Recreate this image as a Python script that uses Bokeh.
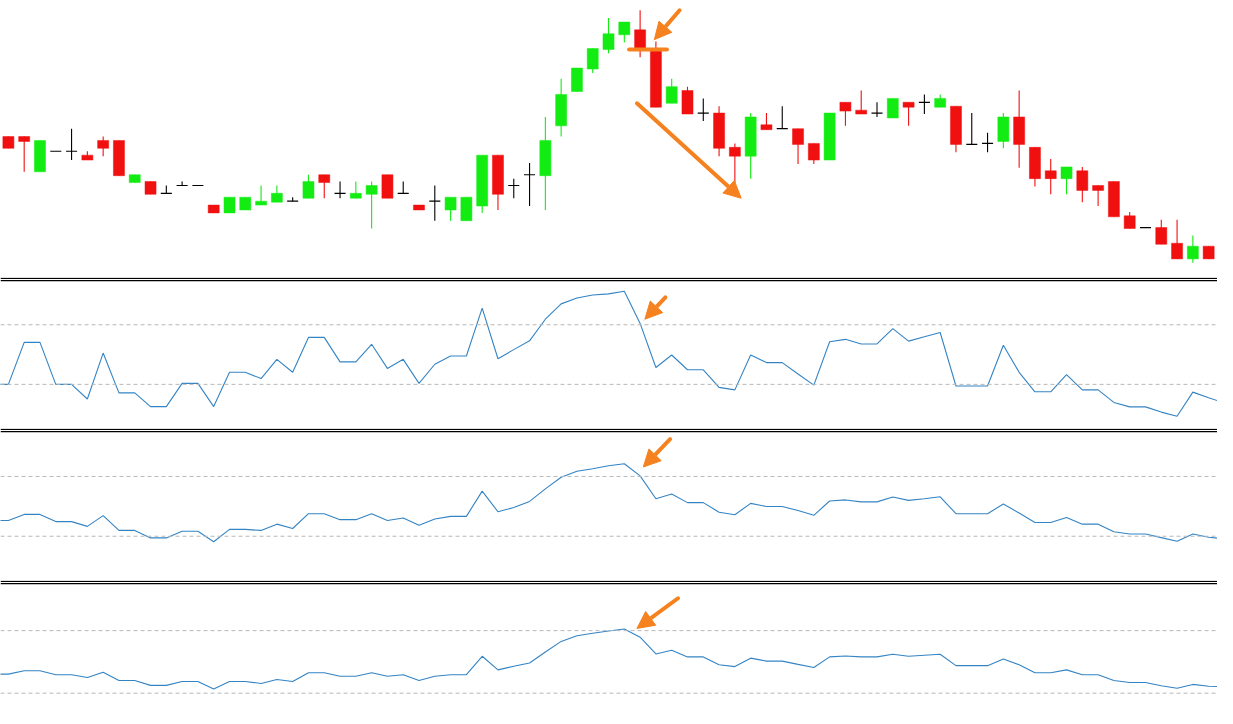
import numpy as np
from bokeh.plotting import figure
from bokeh.layouts import column
from bokeh.models import Range1d, Arrow, NormalHead, Span, ColumnDataSource
from bokeh.embed import file_html
from bokeh.resources import INLINE

# ---------------- data ----------------
open_ = [161, 161, 125, 146, 146, 142, 157, 157, 114, 115, 103, 111, 111, 91, 83, 86, 91, 94, 95, 98,
         122, 103, 98, 102, 122, 103, 91, 95, 86, 75, 90, 142, 111, 122, 121, 172, 207, 230, 250, 265,
         270, 250, 195, 208, 185, 185, 150, 141, 173, 169, 169, 154, 137, 196, 188, 185, 180, 196, 196, 191,
         192, 153, 154, 156, 181, 150, 126, 118, 126, 111, 115, 80, 68, 68, 52, 36, 49]
high = [161, 161, 157, 146, 169, 146, 161, 157, 122, 115, 111, 115, 111, 91, 99, 99, 111, 111, 99, 122,
        122, 115, 115, 115, 122, 115, 91, 111, 99, 99, 142, 142, 118, 134, 181, 220, 231, 251, 282, 278,
        290, 258, 220, 212, 200, 192, 154, 185, 185, 192, 169, 154, 185, 196, 208, 196, 200, 196, 204, 204,
        192, 185, 165, 185, 208, 150, 138, 130, 130, 111, 115, 84, 68, 76, 76, 60, 49]
low = [149, 125, 125, 146, 137, 137, 141, 121, 114, 102, 103, 111, 111, 83, 83, 86, 91, 94, 95, 98,
       98, 98, 98, 67, 98, 103, 86, 75, 75, 75, 83, 86, 98, 90, 86, 161, 207, 226, 246, 257,
       242, 191, 195, 184, 177, 141, 114, 118, 168, 169, 133, 133, 137, 172, 184, 181, 180, 172, 184, 191,
       145, 153, 145, 149, 129, 110, 102, 102, 94, 90, 79, 67, 68, 51, 36, 32, 36]
close = [149, 156, 157, 146, 146, 137, 149, 121, 122, 102, 103, 111, 111, 83, 99, 99, 95, 103, 95, 115,
         114, 103, 103, 111, 98, 103, 86, 95, 99, 99, 142, 102, 111, 122, 157, 204, 231, 251, 266, 278,
         250, 191, 212, 184, 185, 149, 141, 181, 168, 169, 153, 137, 185, 187, 184, 185, 200, 191, 196, 200,
         153, 153, 154, 181, 153, 118, 118, 130, 106, 106, 79, 67, 68, 51, 36, 49, 36]

# oscillator panels (first value is one bar before the first candle, last one bar after)
osc_fast = [30.0, 30.0, 58.2, 58.2, 30.0, 30.0, 20.2, 51.0, 24.3, 24.3, 15.1, 15.1, 30.7, 30.7, 15.1,
            38.1, 38.1, 33.9, 46.8, 38.1, 61.5, 61.5, 45.1, 45.1, 56.9, 40.7, 46.8, 30.7, 43.5, 49.0,
            49.0, 81.1, 47.2, 53.3, 59.2, 73.7, 84.0, 87.9, 89.9, 90.7, 92.5, 70.9, 41.3, 49.7, 39.8,
            39.8, 28.0, 26.3, 49.7, 44.6, 44.6, 37.0, 29.5, 58.6, 60.2, 57.1, 57.1, 67.4, 59.0, 61.9,
            64.8, 28.9, 28.9, 28.9, 56.2, 38.1, 25.0, 25.0, 36.6, 26.3, 26.3, 17.9, 14.9, 14.9, 11.4,
            8.6, 24.8, 21.0, 17.5]
osc_mid = [40.5, 40.5, 44.6, 44.6, 39.8, 39.8, 36.6, 43.8, 33.9, 33.9, 28.9, 28.9, 33.3, 33.3, 26.3,
           34.6, 34.6, 33.9, 38.1, 35.2, 45.1, 45.1, 41.1, 41.1, 45.1, 40.5, 42.2, 37.4, 41.5, 43.3,
           43.3, 60.2, 46.4, 49.2, 53.3, 61.7, 69.5, 73.5, 75.2, 77.2, 78.5, 70.4, 55.1, 58.2, 52.5,
           52.5, 46.1, 44.4, 52.0, 49.9, 49.9, 47.2, 44.0, 53.6, 54.3, 53.0, 53.0, 56.2, 54.0, 55.1,
           56.4, 45.1, 45.1, 45.1, 51.6, 45.5, 39.2, 39.2, 42.5, 38.1, 38.1, 33.0, 31.5, 31.5, 29.1,
           26.7, 31.5, 29.3, 28.2]
osc_slow = [42.2, 42.2, 44.3, 44.3, 41.8, 41.8, 40.0, 43.4, 38.1, 38.1, 35.0, 35.0, 37.5, 37.5, 32.7,
            37.5, 37.5, 36.2, 38.7, 37.5, 43.1, 43.1, 40.8, 40.8, 43.1, 40.8, 41.8, 38.1, 40.8, 41.8,
            41.8, 53.6, 44.9, 47.2, 49.3, 56.3, 63.1, 66.7, 68.3, 69.8, 71.0, 65.8, 55.1, 57.4, 53.2,
            53.2, 48.2, 47.0, 52.4, 50.5, 50.5, 48.4, 46.4, 53.2, 53.8, 53.2, 53.2, 54.9, 53.6, 54.3,
            54.9, 47.6, 47.6, 47.6, 51.8, 48.2, 43.1, 43.1, 44.9, 41.8, 41.8, 38.1, 36.8, 36.8, 34.7,
            33.1, 35.6, 34.4, 34.2]
levels = [30, 70]

# annotation arrows: (x_start, y_start, x_end, y_end) in data units
price_arrows = [(42.5, 290, 40.9, 260), (39.8, 195, 46.4, 98)]
price_marker = (39.3, 41.7, 250)
osc_arrows = [(41.6, 88.4, 40.3, 73.7), (41.9, 94.9, 40.2, 76.3), (42.4, 90.7, 39.8, 71.4)]

# ---------------- styling ----------------
GREEN = "#12ec12"
RED = "#f01010"
BLUE = "#3484c4"
ORANGE = "#f5821f"
W = 1217
SEP = 4
x_range = Range1d(-0.5, 76.56)


def make_fig(h, y0, y1):
    p = figure(width=W, height=h, x_range=x_range, y_range=Range1d(y0, y1),
               x_axis_type=None, y_axis_type=None, toolbar_location=None,
               output_backend="svg", min_border=0)
    p.outline_line_color = None
    p.background_fill_color = "white"
    p.border_fill_color = "white"
    return p


def osc_fig(frame_h, y0, y1):
    # frame plus a double separator line strip above it
    upp = (y1 - y0) / frame_h
    top = y1 + SEP * upp
    p = make_fig(frame_h + SEP, y0, top)
    for off in (0.9, 3.1):
        p.add_layout(Span(location=top - off * upp, dimension="width",
                          line_color="black", line_width=1.3))
    return p


# ---------------- candles ----------------
o = np.array(open_, float)
h = np.array(high, float)
l = np.array(low, float)
c = np.array(close, float)
idx = np.arange(len(o))
bull = c > o
bear = c < o
doji = c == o
colors = np.where(bull, GREEN, np.where(bear, RED, "black"))

p0 = make_fig(277, 17, 300)
p0.segment(x0=idx, y0=l, x1=idx, y1=h, line_color=list(colors), line_width=1.1)
body = ColumnDataSource(dict(x=idx[~doji], top=np.maximum(o, c)[~doji],
                             bottom=np.minimum(o, c)[~doji], color=list(colors[~doji])))
p0.vbar(x="x", top="top", bottom="bottom", width=0.7, fill_color="color",
        line_color="color", line_width=0.5, source=body)
p0.segment(x0=idx[doji] - 0.35, y0=o[doji], x1=idx[doji] + 0.35, y1=o[doji],
           line_color="black", line_width=1.2)

for (xs, ys, xe, ye) in price_arrows:
    p0.add_layout(Arrow(x_start=xs, y_start=ys, x_end=xe, y_end=ye,
                        line_color=ORANGE, line_width=4, line_cap="round",
                        end=NormalHead(size=17, fill_color=ORANGE, line_color=ORANGE)))
p0.segment(x0=[price_marker[0]], y0=[price_marker[2]], x1=[price_marker[1]], y1=[price_marker[2]],
           line_color=ORANGE, line_width=4, line_cap="round")

# ---------------- oscillators ----------------
panels = []
specs = [(osc_fast, 147, 0.4, 99.0), (osc_mid, 148, 0.4, 99.4), (osc_slow, 124, 20.2, 99.5)]
for k, (vals, hh, y0, y1) in enumerate(specs):
    p = osc_fig(hh, y0, y1)
    for lv in levels:
        p.add_layout(Span(location=lv, dimension="width", line_color="#b8b8b8",
                          line_width=1, line_dash="4 3"))
    xs = np.arange(-1, -1 + len(vals))
    p.line(xs, vals, line_color=BLUE, line_width=1.1)
    a = osc_arrows[k]
    p.add_layout(Arrow(x_start=a[0], y_start=a[1], x_end=a[2], y_end=a[3],
                       line_color=ORANGE, line_width=4, line_cap="round",
                       end=NormalHead(size=17, fill_color=ORANGE, line_color=ORANGE)))
    panels.append(p)

layout = column(p0, *panels, spacing=0)

open("out.html", "w").write(file_html(layout, INLINE))
